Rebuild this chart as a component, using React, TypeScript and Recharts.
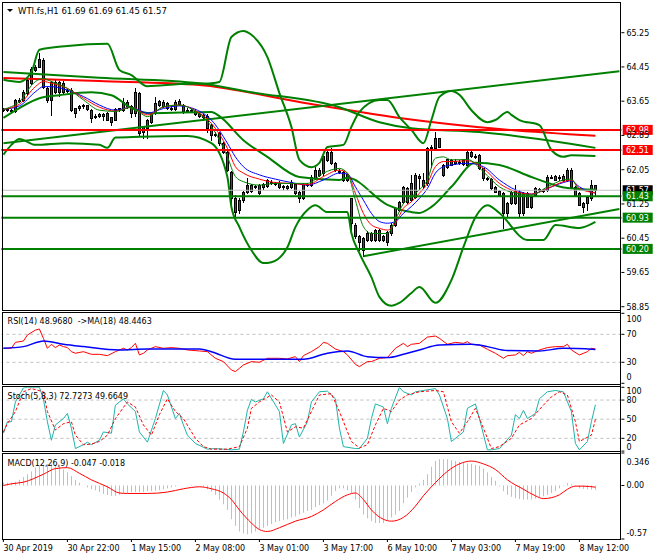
import { Bar, ComposedChart, Line, ReferenceLine, XAxis, YAxis } from "recharts";

const FONT = "'DejaVu Sans', Verdana, sans-serif";
const GREEN = "#008000";
const RED = "#ff0000";
const BLUE = "#0000ff";
const TEAL = "#20b2aa";
const SILVER = "#c0c0c0";

// WTI.fs H1 candles, 30 Apr 06:00 -> 8 May 16:00
const opens = [
  63.45, 63.47, 63.44, 63.42, 63.68, 63.67, 63.84, 64.07, 64.38, 64.46,
  64.61, 63.95, 63.68, 64.11, 63.87, 64.08, 63.9, 63.91, 63.38, 63.48,
  63.53, 63.55, 63.45, 63.28, 63.3, 63.35, 63.37, 63.27, 63.22, 63.46,
  63.45, 63.64, 63.54, 63.37, 63.85, 63.04, 63.02, 63.17, 63.38, 63.65,
  63.64, 63.6, 63.5, 63.46, 63.66, 63.56, 63.45, 63.44, 63.43, 63.35,
  63.33, 63.3, 63.09, 62.88, 62.9, 62.67, 62.47, 62.0, 61.4, 61.11,
  61.34, 61.54, 61.55, 61.68, 61.69, 61.64, 61.67, 61.77, 61.74, 61.75,
  61.64, 61.66, 61.65, 61.72, 61.54, 61.4, 61.72, 61.69, 61.85, 62.04,
  61.97, 62.28, 62.47, 62.2, 62.03, 62.0, 61.95, 61.38, 60.76, 60.49,
  60.17, 60.58, 60.41, 60.63, 60.41, 60.49, 60.37, 60.56, 60.76, 61.11,
  61.3, 61.62, 61.34, 61.42, 61.9, 61.66, 61.73, 62.55, 62.55, 62.78,
  61.93, 62.12, 62.28, 62.2, 62.24, 62.28, 62.16, 62.47, 62.38, 62.39,
  62.08, 61.86, 61.83, 61.65, 61.56, 61.5, 61.03, 61.27, 61.27, 61.54,
  61.03, 61.5, 61.19, 61.46, 61.59, 61.58, 61.58, 61.88, 61.91, 61.85,
  61.91, 61.81, 62.05, 61.65, 61.5, 61.28, 61.27, 61.38, 61.69,
];
const highs = [
  63.49, 63.48, 63.47, 63.7, 63.72, 63.9, 64.16, 64.46, 64.5, 64.77,
  64.66, 63.99, 64.13, 64.14, 64.13, 64.12, 63.94, 63.95, 63.49, 63.55,
  63.58, 63.57, 63.47, 63.34, 63.38, 63.37, 63.4, 63.29, 63.48, 63.5,
  63.72, 63.68, 63.56, 63.95, 63.87, 63.07, 63.24, 63.4, 63.74, 63.68,
  63.67, 63.63, 63.54, 63.68, 63.7, 63.58, 63.5, 63.47, 63.46, 63.38,
  63.36, 63.35, 63.12, 62.93, 62.93, 62.7, 62.5, 62.03, 61.45, 61.38,
  61.56, 61.85, 61.72, 61.7, 61.72, 61.75, 61.83, 61.81, 61.76, 61.78,
  61.7, 61.7, 61.8, 61.75, 61.56, 61.74, 61.75, 61.92, 62.16, 62.08,
  62.38, 62.53, 62.55, 62.23, 62.06, 62.03, 61.98, 61.4, 60.8, 60.52,
  60.47, 60.62, 60.6, 60.66, 60.67, 60.52, 60.62, 60.8, 61.17, 61.33,
  61.68, 61.65, 61.93, 61.97, 61.95, 61.97, 62.59, 62.62, 62.94, 62.8,
  62.18, 62.31, 62.31, 62.3, 62.28, 62.31, 62.5, 62.5, 62.41, 62.42,
  62.1, 61.89, 61.85, 61.67, 61.58, 61.53, 61.29, 61.56, 61.69, 61.57,
  61.52, 61.53, 61.44, 61.64, 61.63, 61.61, 61.93, 61.93, 61.93, 61.93,
  61.94, 62.08, 62.08, 61.67, 61.52, 61.3, 61.44, 61.81, 61.69,
];
const lows = [
  63.43, 63.42, 63.4, 63.4, 63.64, 63.65, 63.8, 64.05, 64.36, 64.44,
  63.95, 63.64, 63.33, 63.84, 63.76, 63.85, 63.86, 63.43, 63.29, 63.45,
  63.5, 63.44, 63.17, 63.26, 63.27, 63.21, 63.2, 63.09, 63.2, 63.43,
  63.43, 63.48, 63.29, 63.3, 62.86, 62.78, 62.78, 63.13, 63.35, 63.54,
  63.52, 63.47, 63.45, 63.44, 63.57, 63.38, 63.41, 63.39, 63.33, 63.27,
  63.21, 62.94, 62.74, 62.83, 62.63, 62.44, 62.01, 61.15, 60.95, 61.05,
  61.3, 61.5, 61.52, 61.63, 61.49, 61.6, 61.64, 61.72, 61.7, 61.63,
  61.6, 61.6, 61.62, 61.48, 61.3, 61.37, 61.68, 61.66, 61.83, 61.9,
  61.93, 62.25, 62.18, 62.02, 61.97, 61.79, 61.79, 60.56, 60.45, 60.17,
  60.03, 60.38, 60.38, 60.39, 60.38, 60.39, 60.29, 60.53, 60.73, 61.08,
  61.27, 61.28, 61.31, 61.4, 61.6, 61.62, 61.7, 62.12, 62.52, 62.57,
  61.9, 62.1, 62.15, 62.18, 62.19, 62.17, 62.14, 62.34, 62.33, 62.06,
  61.81, 61.8, 61.6, 61.52, 61.44, 60.68, 60.95, 61.24, 61.24, 60.95,
  61.0, 61.17, 61.15, 61.44, 61.55, 61.52, 61.55, 61.85, 61.8, 61.8,
  61.79, 61.79, 61.63, 61.44, 61.22, 61.07, 61.11, 61.35, 61.45,
];
const closes = [
  63.47, 63.44, 63.43, 63.68, 63.67, 63.87, 64.14, 64.4, 64.46, 64.63,
  63.99, 63.68, 64.11, 63.87, 64.11, 63.87, 63.91, 63.45, 63.48, 63.53,
  63.55, 63.46, 63.25, 63.3, 63.36, 63.3, 63.21, 63.17, 63.46, 63.48,
  63.64, 63.54, 63.38, 63.87, 62.9, 62.94, 63.21, 63.38, 63.6, 63.56,
  63.54, 63.48, 63.48, 63.64, 63.59, 63.41, 63.44, 63.42, 63.35, 63.3,
  63.29, 63.02, 62.86, 62.87, 62.67, 62.47, 62.04, 61.38, 61.07, 61.34,
  61.54, 61.69, 61.69, 61.67, 61.51, 61.72, 61.81, 61.76, 61.73, 61.65,
  61.67, 61.63, 61.77, 61.5, 61.38, 61.72, 61.7, 61.89, 62.04, 61.93,
  62.36, 62.47, 62.2, 62.04, 62.0, 61.81, 61.82, 60.8, 60.49, 60.37,
  60.45, 60.41, 60.56, 60.41, 60.64, 60.41, 60.6, 60.76, 61.15, 61.3,
  61.65, 61.3, 61.73, 61.93, 61.85, 61.81, 62.55, 62.59, 62.78, 62.59,
  62.16, 62.29, 62.17, 62.26, 62.22, 62.19, 62.47, 62.36, 62.36, 62.08,
  61.85, 61.83, 61.62, 61.54, 61.46, 61.03, 61.27, 61.54, 61.56, 61.03,
  61.5, 61.19, 61.42, 61.62, 61.58, 61.55, 61.89, 61.89, 61.81, 61.88,
  61.81, 62.05, 61.65, 61.46, 61.23, 61.19, 61.42, 61.69, 61.57,
];

// fast moving averages [bar, price]
const maBlue = [
  [0, 63.46], [4, 63.54], [8, 63.87], [10, 63.99], [12, 63.99], [16, 63.91], [20, 63.76], [24, 63.56],
  [28, 63.44], [32, 63.51], [36, 63.37], [40, 63.48], [44, 63.54], [48, 63.46], [52, 63.21], [56, 62.67],
  [58, 62.35], [60, 62.12], [64, 61.93], [68, 61.83], [72, 61.75], [76, 61.69], [80, 61.81], [84, 61.97],
  [86, 61.95], [88, 61.65], [90, 61.34], [92, 61.03], [94, 60.84], [96, 60.8], [98, 60.84], [100, 61.03],
  [102, 61.19], [104, 61.38], [106, 61.61], [108, 61.97], [110, 62.12], [112, 62.16], [116, 62.2],
  [120, 62.12], [124, 61.81], [128, 61.58], [132, 61.48], [136, 61.61], [140, 61.75], [142, 61.79],
  [144, 61.65], [148, 61.5],
];
const maRed = [
  [0, 63.46], [4, 63.58], [8, 63.99], [10, 64.11], [12, 64.07], [16, 63.95], [20, 63.72], [24, 63.51],
  [28, 63.42], [32, 63.51], [36, 63.33], [40, 63.51], [44, 63.56], [48, 63.43], [52, 63.13], [56, 62.55],
  [58, 62.12], [60, 61.97], [64, 61.83], [68, 61.75], [72, 61.73], [76, 61.7], [80, 61.89], [84, 62.04],
  [86, 61.97], [88, 61.5], [90, 61.03], [92, 60.76], [94, 60.68], [96, 60.64], [98, 60.8], [100, 61.15],
  [102, 61.3], [104, 61.5], [106, 61.73], [108, 62.12], [110, 62.24], [112, 62.24], [116, 62.26],
  [120, 62.08], [124, 61.73], [128, 61.54], [132, 61.48], [136, 61.61], [140, 61.77], [142, 61.81],
  [144, 61.61], [148, 61.51],
];
const maGreen = [
  [0, 63.46], [4, 63.64], [8, 64.11], [10, 64.18], [12, 64.11], [16, 63.95], [20, 63.68], [24, 63.44],
  [28, 63.41], [32, 63.51], [36, 63.29], [40, 63.52], [44, 63.56], [48, 63.41], [52, 63.06], [56, 62.35],
  [58, 61.89], [60, 61.77], [64, 61.69], [68, 61.73], [72, 61.73], [76, 61.73], [80, 61.97], [84, 62.08],
  [86, 61.97], [88, 61.34], [90, 60.72], [92, 60.56], [94, 60.56], [96, 60.56], [98, 60.88], [100, 61.26],
  [102, 61.42], [104, 61.58], [106, 61.81], [108, 62.32], [110, 62.35], [112, 62.28], [116, 62.29],
  [120, 62.0], [124, 61.65], [128, 61.5], [132, 61.46], [136, 61.65], [140, 61.81], [142, 61.83],
  [144, 61.58], [148, 61.56],
];

// Bollinger bands
const bbUpper = [
  [0, 64.15], [4, 64.1], [7, 64.33], [9, 64.85], [16, 64.94], [26, 64.99], [29, 64.38], [32, 64.26],
  [36, 64.0], [44, 64.05], [52, 64.07], [54, 64.1], [57, 65.15], [60, 65.29], [62, 65.2], [66, 64.68],
  [69, 63.84], [72, 63.05], [74, 62.28], [77, 62.11], [79, 62.21], [81, 62.58], [85, 62.63], [87, 63.05],
  [89, 63.4], [94, 63.68], [96, 63.68], [99, 63.28], [102, 62.98], [105, 62.67], [107, 63.21], [109, 63.75],
  [112, 63.89], [114, 63.8], [117, 63.44], [121, 63.16], [123, 63.21], [126, 63.4], [127, 63.33],
  [129, 63.21], [134, 63.09], [137, 62.51], [140, 62.35], [142, 62.39], [148, 62.37],
];
const bbMiddle = [
  [0, 63.26], [4, 63.49], [9, 63.72], [14, 63.79], [22, 63.86], [27, 63.79], [32, 63.49], [37, 63.37],
  [52, 63.4], [54, 63.3], [60, 62.74], [66, 62.35], [74, 61.88], [84, 61.81], [86, 61.86], [96, 61.23],
  [102, 61.06], [104, 61.04], [107, 61.18], [112, 61.65], [118, 62.21], [124, 62.16], [132, 61.88],
  [141, 61.62], [148, 61.58],
];
const bbLower = [
  [0, 62.4], [2, 62.63], [4, 62.77], [8, 62.63], [16, 62.67], [24, 62.63], [26, 62.56], [28, 62.8],
  [34, 62.82], [46, 62.84], [52, 62.67], [56, 61.88], [57, 61.18], [59, 60.71], [62, 60.17], [65, 59.87],
  [67, 59.89], [71, 60.24], [73, 60.71], [76, 61.11], [78, 61.22], [81, 61.06], [86, 61.06], [87, 60.57],
  [89, 60.1], [92, 59.54], [94, 59.08], [97, 58.87], [99, 58.94], [102, 59.17], [104, 59.31], [108, 58.94],
  [112, 59.47], [115, 60.24], [118, 60.94], [121, 61.22], [124, 61.04], [131, 60.41], [135, 60.41],
  [138, 60.76], [144, 60.69], [148, 60.83],
];

// slow averages
const slowGreen = [
  [0, 64.33], [24, 64.2], [49, 64.07], [62, 63.86], [84, 63.51], [94, 63.16], [102, 63.02], [119, 62.93],
  [148, 62.56],
];
const slowRed = [[0, 64.19], [24, 64.12], [49, 64.03], [74, 63.63], [99, 63.26], [124, 63.0], [148, 62.84]];

// trend lines
const trendUpper = [[0, 62.67], [154, 64.35]];
const trendLower = [[90, 60.03], [154, 61.13]];

const resistance = [62.98, 62.51];
const support = [61.43, 60.93, 60.2];
const lastPrice = 61.57;
const priceTicks = [58.85, 59.65, 60.45, 61.25, 62.05, 62.85, 63.65, 64.45, 65.25];

// RSI(14) and its MA(18)
const rsi = [
  [0, 50], [2, 50], [3, 58.5], [5, 60.4], [6, 69], [8, 76], [9, 77.6], [10, 64.3], [11, 50], [12, 55.7],
  [13, 51], [14, 54.7], [15, 52.4], [16, 51], [17, 45.2], [18, 42.9], [20, 45.2], [22, 41.4], [24, 41.4],
  [26, 39.5], [28, 45.2], [30, 50], [31, 47.6], [32, 51], [33, 57.1], [34, 40.5], [35, 42.9], [36, 47.6],
  [37, 50], [38, 52.4], [40, 50], [42, 51], [44, 50], [46, 47.6], [49, 46.2], [51, 45.2], [53, 35.7],
  [55, 31], [57, 19], [58, 16.7], [59, 21.4], [60, 26.2], [62, 31], [64, 30], [66, 35.7], [69, 35.7],
  [71, 34.8], [73, 38.1], [74, 31], [75, 39.5], [77, 45.2], [79, 52.4], [80, 58.5], [81, 57.1], [83, 49],
  [85, 45.2], [86, 40.5], [88, 27.1], [89, 23.8], [91, 31], [92, 31], [93, 33.3], [94, 35.7], [96, 36.7],
  [98, 50], [100, 57.1], [101, 52.4], [102, 55.7], [104, 57.1], [106, 66], [108, 67.5], [109, 64.3],
  [111, 55.7], [113, 58.5], [115, 57.1], [116, 59.5], [117, 55.7], [119, 54.7], [121, 48.6], [123, 42.9],
  [125, 35.7], [126, 39.5], [128, 40.5], [129, 44.2], [130, 39.5], [131, 45.2], [132, 42.9], [134, 47.6],
  [136, 51], [138, 52.4], [140, 52.4], [141, 55.7], [142, 47.6], [144, 40.5], [146, 45.2], [147, 50],
  [148, 48.97],
];
const rsiMa = [
  [0, 50], [5, 52.4], [9, 59.5], [10, 60.4], [15, 55.7], [20, 52.4], [29, 47.6], [36, 49], [49, 49],
  [52, 45.2], [58, 34.3], [62, 34.3], [75, 34.3], [81, 42.9], [86, 46.2], [91, 38.1], [96, 36.7],
  [100, 41.4], [104, 47.6], [109, 54.7], [117, 55.7], [121, 52.4], [126, 46.7], [134, 46.2], [140, 50],
  [148, 48.45],
];

// Stochastic(5,8,3)
const stochMain = [
  [0, 28], [1, 46], [2, 46], [3, 77], [5, 99], [6, 100], [9, 100], [10, 82], [11, 46], [12, 17], [13, 41],
  [15, 51], [16, 59], [17, 36], [18, 4], [20, 10], [21, 14], [22, 10], [24, 17], [25, 30], [27, 28],
  [28, 72], [30, 82], [31, 74], [33, 62], [34, 30], [36, 14], [38, 51], [40, 95], [41, 88], [43, 51],
  [44, 59], [45, 41], [46, 25], [48, 12], [51, 3], [53, 4], [55, 3], [57, 2], [59, 3], [60, 30], [61, 64],
  [62, 81], [63, 77], [65, 82], [66, 93], [69, 62], [70, 12], [72, 41], [73, 43], [74, 22], [76, 46],
  [77, 77], [79, 93], [81, 94], [83, 82], [84, 36], [85, 7], [88, 4], [89, 4], [91, 20], [92, 51],
  [93, 74], [95, 69], [96, 43], [97, 67], [99, 100], [100, 93], [102, 88], [103, 93], [105, 95],
  [108, 98], [109, 88], [111, 51], [112, 15], [114, 25], [115, 30], [116, 67], [118, 74], [119, 51],
  [121, 2], [122, 2], [124, 4], [127, 25], [128, 57], [129, 51], [130, 64], [131, 51], [133, 59],
  [134, 82], [136, 93], [138, 95], [140, 93], [142, 62], [143, 12], [144, 2], [146, 15], [147, 46],
  [148, 72.73],
];
const stochSignal = [
  [0, 30], [1, 43], [3, 62], [5, 93], [7, 98], [10, 93], [11, 62], [13, 33], [15, 43], [17, 46], [18, 25],
  [20, 10], [22, 11], [24, 15], [26, 25], [28, 51], [31, 77], [33, 69], [35, 41], [37, 25], [39, 57],
  [41, 82], [43, 62], [45, 51], [48, 20], [50, 7], [52, 3], [56, 3], [59, 7], [61, 36], [62, 67], [64, 77],
  [67, 88], [69, 77], [71, 30], [73, 38], [75, 36], [77, 62], [79, 88], [82, 90], [84, 62], [87, 15],
  [89, 5], [91, 10], [93, 41], [95, 67], [97, 62], [99, 80], [101, 88], [104, 93], [108, 95], [110, 93],
  [112, 46], [114, 28], [116, 46], [118, 67], [120, 36], [122, 4], [124, 7], [127, 20], [129, 41],
  [132, 51], [135, 72], [137, 85], [139, 93], [141, 88], [143, 46], [144, 15], [147, 25], [148, 49.66],
];

// MACD(12,26,9): main as histogram, signal as line
const macdHist = [
  0.03, 0.03, 0.03, 0.04, 0.06, 0.09, 0.12, 0.15, 0.19, 0.21,
  0.22, 0.23, 0.23, 0.22, 0.21, 0.17, 0.14, 0.1, 0.06, 0.03,
  0.0, -0.02, -0.04, -0.05, -0.07, -0.09, -0.1, -0.11, -0.11, -0.1,
  -0.08, -0.08, -0.07, -0.07, -0.07, -0.07, -0.06, -0.06, -0.055, -0.05,
  -0.04, -0.03, -0.02, -0.01, 0.0, 0.0, 0.003, 0.005, 0.004, 0.0,
  -0.01, -0.04, -0.065, -0.1, -0.15, -0.2, -0.26, -0.36, -0.43, -0.49,
  -0.51, -0.52, -0.51, -0.49, -0.47, -0.45, -0.43, -0.41, -0.39, -0.38,
  -0.37, -0.36, -0.34, -0.33, -0.31, -0.29, -0.27, -0.26, -0.23, -0.21,
  -0.19, -0.16, -0.11, -0.06, -0.03, -0.03, -0.05, -0.08, -0.15, -0.24,
  -0.31, -0.35, -0.38, -0.4, -0.4, -0.4, -0.37, -0.34, -0.31, -0.27,
  -0.19, -0.13, -0.07, -0.02, 0.02, 0.06, 0.12, 0.2, 0.26, 0.28,
  0.28, 0.28, 0.27, 0.26, 0.25, 0.24, 0.235, 0.23, 0.22, 0.21,
  0.18, 0.14, 0.09, 0.05, -0.01, -0.06, -0.1, -0.12, -0.135, -0.145,
  -0.15, -0.15, -0.15, -0.14, -0.13, -0.115, -0.1, -0.08, -0.06, -0.03,
  0.005, 0.025, 0.015, -0.005, -0.03, -0.036, -0.04, -0.044, -0.047,
];
const macdSignal = [
  [0, 0], [2, 0.018], [5, 0.035], [10, 0.12], [13, 0.18], [16, 0.19], [19, 0.13], [22, 0.06], [26, -0.014],
  [29, -0.08], [31, -0.085], [36, -0.085], [41, -0.07], [45, -0.035], [49, -0.014], [52, -0.035],
  [55, -0.08], [57, -0.15], [59, -0.26], [62, -0.4], [64, -0.47], [66, -0.49], [69, -0.45], [73, -0.38],
  [77, -0.33], [80, -0.26], [83, -0.17], [86, -0.1], [88, -0.08], [90, -0.15], [92, -0.26], [95, -0.36],
  [97, -0.38], [100, -0.34], [103, -0.22], [105, -0.11], [108, 0.03], [111, 0.15], [114, 0.23], [117, 0.26],
  [120, 0.23], [123, 0.17], [126, 0.06], [130, -0.04], [133, -0.11], [135, -0.14], [137, -0.13],
  [139, -0.1], [141, -0.04], [143, -0.007], [145, -0.007], [148, -0.018],
];

const timeTicks = [0, 16, 32, 48, 64, 80, 96, 112, 128, 144];
const timeLabels = [
  "30 Apr 2019", "30 Apr 22:00", "1 May 15:00", "2 May 08:00", "3 May 01:00",
  "3 May 17:00", "6 May 10:00", "7 May 03:00", "7 May 19:00", "8 May 12:00",
];

// one row per bar slot, with empty slots for the chart shift on the right
const rows: any[] = Array.from({ length: 155 }, (_, i) => {
  const r: any = { i };
  if (i < closes.length) {
    r.hl = [lows[i], highs[i]];
    r.o = opens[i];
    r.h = highs[i];
    r.l = lows[i];
    r.c = closes[i];
    r.macd = macdHist[i];
  }
  return r;
});
const put = (key: string, pts: number[][]) => pts.forEach(([i, v]) => (rows[i][key] = v));
put("maBlue", maBlue);
put("maRed", maRed);
put("maGreen", maGreen);
put("bbUpper", bbUpper);
put("bbMiddle", bbMiddle);
put("bbLower", bbLower);
put("slowGreen", slowGreen);
put("slowRed", slowRed);
put("trendUpper", trendUpper);
put("trendLower", trendLower);
put("rsi", rsi);
put("rsiMa", rsiMa);
put("stochMain", stochMain);
put("stochSignal", stochSignal);
put("macdSignal", macdSignal);

const W = 660;
const PLOT_LEFT = 1.4;
const AXIS_W = 38.6;

function Candle(props: any) {
  const { x, y, width, height, payload } = props;
  if (!payload || payload.c == null) return null;
  const top = Math.min(y, y + height);
  const h = Math.abs(height);
  const { o, c } = payload;
  const span = payload.h - payload.l || 1;
  const at = (v: number) => top + ((payload.h - v) / span) * h;
  const px = Math.floor(x + width / 2);
  const bTop = Math.round(at(Math.max(o, c)));
  const bBot = Math.round(at(Math.min(o, c)));
  return (
    <g>
      <line x1={px + 0.5} x2={px + 0.5} y1={Math.round(top)} y2={Math.round(top + h) + 1} stroke="#000" />
      <rect
        x={px - 0.5}
        y={bTop + 0.5}
        width={2}
        height={Math.max(bBot - bTop, 1)}
        fill={c >= o ? GREEN : RED}
        stroke="#000"
      />
    </g>
  );
}

function HistBar(props: any) {
  const { x, y, width, height } = props;
  if (height == null || isNaN(height)) return null;
  const px = Math.floor(x + width / 2);
  return <rect x={px} y={Math.min(y, y + height)} width={1} height={Math.abs(height)} fill={SILVER} />;
}

const makeTick = (lo: number, hi: number, fmt: (v: number) => string, downTop: number, upBottom: number) =>
  function AxisTick(props: any) {
    const { x, y, payload } = props;
    const v = payload.value;
    const dy = v === hi ? downTop : v === lo ? -upBottom : 0;
    return (
      <text x={x} y={y + dy + 3} fontSize={8} fontFamily={FONT} fill="#000" textAnchor="start">
        {fmt(v)}
      </text>
    );
  };

function TimeTick(props: any) {
  const { x, y, payload } = props;
  const k = timeTicks.indexOf(payload.value);
  return (
    <text x={x} y={y + 7} fontSize={8} fontFamily={FONT} fill="#000" textAnchor="start">
      {timeLabels[k]}
    </text>
  );
}

const tag = (fill: string, text: string) =>
  function PriceTag(props: any) {
    const vb = props.viewBox || {};
    const x = vb.x + vb.width;
    const y = vb.y;
    return (
      <g>
        <rect x={x + 1.3} y={y - 5} width={30} height={10} fill={fill} />
        <text x={x + 4.6} y={y + 3.2} fontSize={8} fontFamily={FONT} fill="#fff">
          {text}
        </text>
      </g>
    );
  };

const curve = (key: string, color: string, width: number, type: any = "monotone", dash?: string) => (
  <Line
    key={key}
    dataKey={key}
    type={type}
    stroke={color}
    strokeWidth={width}
    strokeDasharray={dash}
    dot={false}
    activeDot={false}
    connectNulls
    isAnimationActive={false}
  />
);

const xAxisHidden = <XAxis dataKey="i" type="category" scale="band" hide />;

export default function App() {
  return (
    <div
      style={{
        position: "absolute",
        left: 0,
        top: 0,
        width: W,
        height: 560,
        background: "#fff",
        overflow: "hidden",
        fontFamily: FONT,
      }}
    >
      {/* price window */}
      <div style={{ position: "absolute", left: 0, top: 0 }}>
        <ComposedChart width={W} height={312} data={rows} margin={{ top: 2, right: 0, bottom: 2, left: PLOT_LEFT }}>
          {xAxisHidden}
          <YAxis
            orientation="right"
            type="number"
            domain={[58.773, 65.967]}
            allowDataOverflow
            ticks={priceTicks}
            interval={0}
            width={AXIS_W}
            axisLine={false}
            tickSize={3}
            tickMargin={2}
            tickLine={{ stroke: "#000" }}
            tick={makeTick(0, 1000, (v) => v.toFixed(2), 0, 0)}
          />
          <Bar dataKey="hl" barSize={4} shape={Candle} isAnimationActive={false} />
          {curve("slowRed", RED, 2)}
          {curve("slowGreen", GREEN, 2)}
          {curve("bbUpper", GREEN, 2)}
          {curve("bbMiddle", GREEN, 2)}
          {curve("bbLower", GREEN, 2)}
          {curve("trendUpper", GREEN, 2, "linear")}
          {curve("trendLower", GREEN, 2, "linear")}
          {curve("maBlue", BLUE, 1)}
          {curve("maRed", RED, 1)}
          {curve("maGreen", GREEN, 1)}
          <ReferenceLine y={lastPrice} stroke={SILVER} strokeWidth={1} label={tag("#000", lastPrice.toFixed(2))} />
          {resistance.map((v) => (
            <ReferenceLine key={v} y={v} stroke={RED} strokeWidth={2} label={tag(RED, v.toFixed(2))} />
          ))}
          {support.map((v) => (
            <ReferenceLine key={v} y={v} stroke={GREEN} strokeWidth={2} label={tag(GREEN, v.toFixed(2))} />
          ))}
        </ComposedChart>
      </div>

      {/* RSI window */}
      <div style={{ position: "absolute", left: 0, top: 312 }}>
        <ComposedChart width={W} height={73} data={rows} margin={{ top: 1.3, right: 0, bottom: 1.7, left: PLOT_LEFT }}>
          {xAxisHidden}
          <YAxis
            orientation="right"
            type="number"
            domain={[0, 100]}
            allowDataOverflow
            ticks={[0, 30, 70, 100]}
            interval={0}
            width={AXIS_W}
            axisLine={false}
            tickSize={3}
            tickMargin={2}
            tickLine={{ stroke: "#000" }}
            tick={makeTick(0, 100, (v) => String(v), 6, 6.6)}
          />
          <ReferenceLine y={70} stroke={SILVER} strokeDasharray="3 3" />
          <ReferenceLine y={30} stroke={SILVER} strokeDasharray="3 3" />
          {curve("rsi", RED, 1, "linear")}
          {curve("rsiMa", BLUE, 1.5)}
        </ComposedChart>
      </div>

      {/* Stochastic window */}
      <div style={{ position: "absolute", left: 0, top: 386 }}>
        <ComposedChart width={W} height={66} data={rows} margin={{ top: 1.3, right: 0, bottom: 0.9, left: PLOT_LEFT }}>
          {xAxisHidden}
          <YAxis
            orientation="right"
            type="number"
            domain={[0, 100]}
            allowDataOverflow
            ticks={[0, 20, 50, 80, 100]}
            interval={0}
            width={AXIS_W}
            axisLine={false}
            tickSize={3}
            tickMargin={2}
            tickLine={{ stroke: "#000" }}
            tick={makeTick(0, 100, (v) => String(v), 3.7, 3.8)}
          />
          <ReferenceLine y={80} stroke={SILVER} strokeDasharray="3 3" />
          <ReferenceLine y={50} stroke={SILVER} strokeDasharray="3 3" />
          <ReferenceLine y={20} stroke={SILVER} strokeDasharray="3 3" />
          {curve("stochMain", TEAL, 1, "linear")}
          {curve("stochSignal", RED, 1, "linear", "3 2")}
        </ComposedChart>
      </div>

      {/* MACD window with the time axis */}
      <div style={{ position: "absolute", left: 0, top: 452 }}>
        <ComposedChart width={W} height={107} data={rows} margin={{ top: 1, right: 0, bottom: 0, left: PLOT_LEFT }}>
          <XAxis
            dataKey="i"
            type="category"
            scale="band"
            ticks={timeTicks}
            interval={0}
            height={20}
            axisLine={false}
            tickSize={3}
            tickMargin={2}
            tickLine={{ stroke: "#000" }}
            tick={TimeTick}
          />
          <YAxis
            orientation="right"
            type="number"
            domain={[-0.57, 0.346]}
            allowDataOverflow
            ticks={[-0.57, 0, 0.346]}
            interval={0}
            width={AXIS_W}
            axisLine={false}
            tickSize={3}
            tickMargin={2}
            tickLine={{ stroke: "#000" }}
            tick={makeTick(-0.57, 0.346, (v) => (v === 0 ? "0.00" : String(v)), 8.7, 5.7)}
          />
          <Bar dataKey="macd" barSize={1} shape={HistBar} isAnimationActive={false} />
          {curve("macdSignal", RED, 1)}
        </ComposedChart>
      </div>

      {/* window frames and captions */}
      <svg
        width={W}
        height={560}
        style={{ position: "absolute", left: 0, top: 0, pointerEvents: "none" }}
        fontFamily={FONT}
        fontSize={8}
      >
        <rect x={2.5} y={2.5} width={618} height={308} fill="none" stroke="#000" />
        <rect x={2.5} y={312.5} width={618} height={72} fill="none" stroke="#000" />
        <rect x={2.5} y={386.5} width={618} height={65} fill="none" stroke="#000" />
        <rect x={2.5} y={453.5} width={618} height={86} fill="none" stroke="#000" />
        <line x1={620.5} x2={620.5} y1={2} y2={540} stroke="#000" />
        <polygon points="7,9 13,9 10,12" fill="#000" />
        <text x={18} y={14} fill="#000" fontSize={8.5}>
          WTI.fs,H1  61.69 61.69 61.45 61.57
        </text>
        <text x={7.6} y={324} fill="#000" xmlSpace="preserve">
          RSI(14) 48.9680  -&gt;MA(18) 48.4463
        </text>
        <text x={7.6} y={399} fill="#000">
          Stoch(5,8,3) 72.7273 49.6649
        </text>
        <text x={7.6} y={466} fill="#000">
          MACD(12,26,9) -0.047 -0.018
        </text>
      </svg>
    </div>
  );
}
